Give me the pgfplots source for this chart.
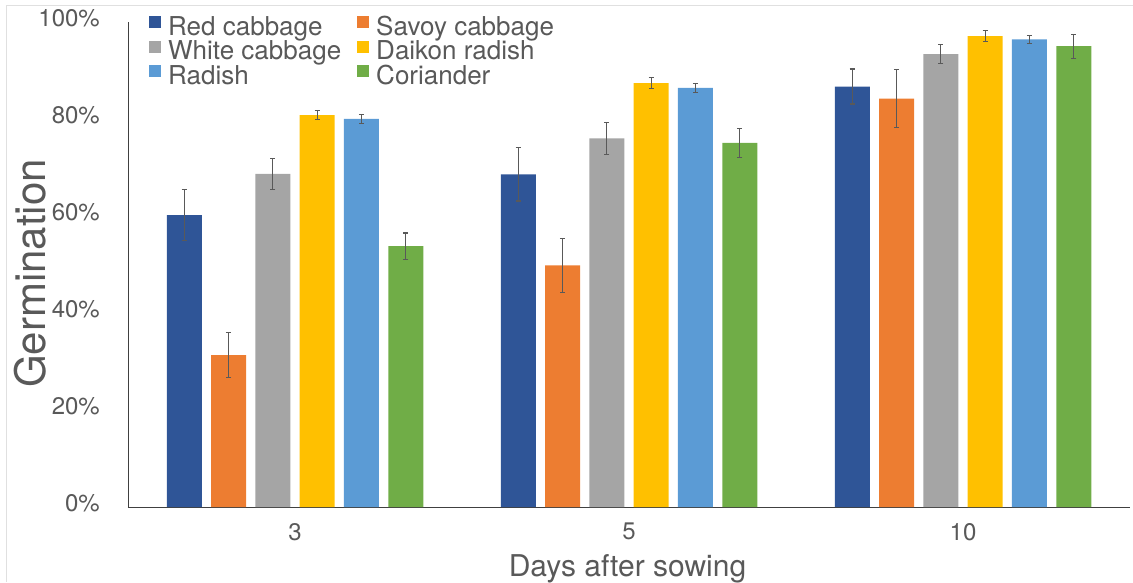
\documentclass[border=0pt]{standalone}
\usepackage{pgfplots}
\pgfplotsset{compat=1.18}
\usepackage{fontspec}
\setmainfont{TeX Gyre Heros}
\definecolor{cRed}{HTML}{2F5597}
\definecolor{cSav}{HTML}{ED7D31}
\definecolor{cWhi}{HTML}{A5A5A5}
\definecolor{cDai}{HTML}{FFC000}
\definecolor{cRad}{HTML}{5B9BD5}
\definecolor{cCor}{HTML}{70AD47}
\definecolor{txt}{HTML}{595959}
\begin{document}
\begin{tikzpicture}
\useasboundingbox (0pt,0pt) rectangle (1133pt,582pt);
\draw[black!12, line width=1pt] (6pt,0pt) -- (6pt,576pt) -- (1133pt,576pt);
\begin{axis}[
  at={(128pt,75pt)}, anchor=south west,
  scale only axis, width=1002pt, height=485pt,
  ybar=9.3pt, bar width=35pt,
  xmin=-0.5, xmax=2.5, ymin=0, ymax=100,
  axis lines=left,
  axis line style={black!75, line width=0.8pt},
  x axis line style={-}, y axis line style={-},
  xtick={0,1,2}, xticklabels={3,5,10},
  ytick={0,20,40,60,80,100},
  yticklabels={0\%,20\%,40\%,60\%,80\%,100\%},
  major tick length=0pt,
  tick label style={font=\fontsize{24}{28}\selectfont, text=txt},
  xticklabel style={inner sep=0pt, anchor=north, yshift=-16pt},
  yticklabel style={inner sep=0pt, anchor=east, xshift=-28pt, yshift=4pt},
  xlabel={Days after sowing},
  ylabel={Germination},
  xlabel style={font=\fontsize{30}{34}\selectfont, text=txt, at={(axis description cs:0.4985,-0.1443)}, anchor=base, inner sep=0pt},
  ylabel style={font=\fontsize{42}{46}\selectfont, text=txt, at={(axis description cs:-0.0828,0.4814)}, anchor=base, inner sep=0pt},
  legend columns=2,
  legend cell align=left,
  legend style={draw=none, fill=none, at={(axis description cs:0,1)}, anchor=north west, xshift=21pt, yshift=6pt, inner sep=0pt,
    font=\fontsize{26}{30}\selectfont, text=txt,
    nodes={inner sep=0pt, text height=19pt, text depth=5.5pt},
    /tikz/every odd column/.append style={column sep=7pt},
    /tikz/every even column/.append style={column sep=16pt}},
  legend image code/.code={\fill[#1] (0pt,0pt) rectangle (12pt,12pt);},
  error bars/y dir=both, error bars/y explicit,
  error bars/error bar style={txt, line width=1.1pt},
  error bars/error mark options={txt, line width=1.1pt, mark size=2.6pt, rotate=90},
]
\addplot[fill=cRed, draw=none] coordinates {(0,60.2) +- (0,5.2) (1,68.6) +- (0,5.5) (2,86.7) +- (0,3.6)};
\addplot[fill=cSav, draw=none] coordinates {(0,31.3) +- (0,4.6) (1,49.8) +- (0,5.6) (2,84.2) +- (0,6.0)};
\addplot[fill=cWhi, draw=none] coordinates {(0,68.7) +- (0,3.2) (1,76.0) +- (0,3.3) (2,93.4) +- (0,2.0)};
\addplot[fill=cDai, draw=none] coordinates {(0,80.8) +- (0,0.9) (1,87.4) +- (0,1.2) (2,97.1) +- (0,1.2)};
\addplot[fill=cRad, draw=none] coordinates {(0,80.0) +- (0,1.0) (1,86.4) +- (0,1.0) (2,96.4) +- (0,0.8)};
\addplot[fill=cCor, draw=none] coordinates {(0,53.8) +- (0,2.7) (1,75.1) +- (0,3.0) (2,95.0) +- (0,2.5)};
\legend{Red cabbage, Savoy cabbage, White cabbage, Daikon radish, Radish, Coriander}
\end{axis}
\end{tikzpicture}
\end{document}
